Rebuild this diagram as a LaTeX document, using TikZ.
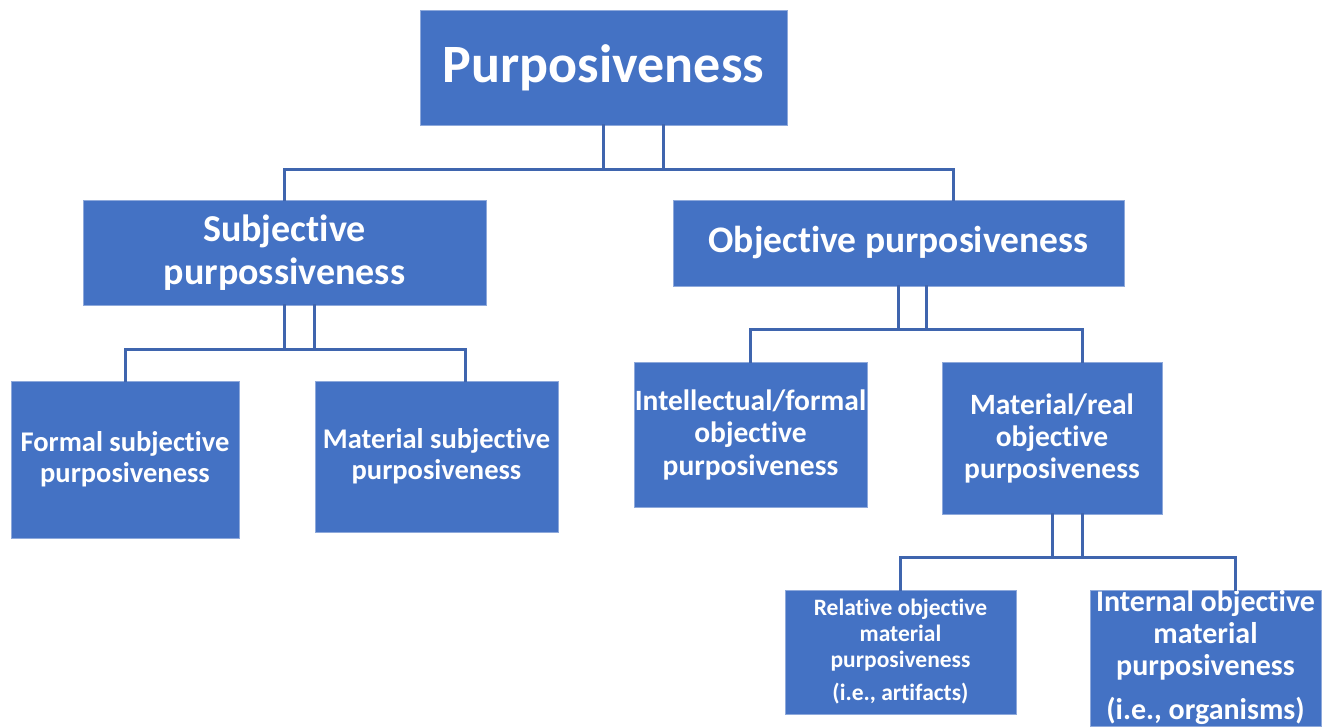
\documentclass[tikz,border=0pt]{standalone}
\usepackage{fontspec}
\setmainfont{Carlito}[Ligatures=NoCommon]
\definecolor{boxblue}{HTML}{4472C4}
\definecolor{edgeblue}{HTML}{8EA9DB}
\definecolor{lineblue}{HTML}{3F65AE}
\begin{document}
\begin{tikzpicture}[x=1pt,y=-1pt,
  box/.style={fill=boxblue,draw=edgeblue,line width=0.6pt,text=white,font=\bfseries,align=center,inner sep=0pt},
  conn/.style={draw=lineblue,line width=3pt,line cap=rect}]
\useasboundingbox[fill=white] (0,0) rectangle (1338,726);
% boxes
\node[box,minimum width=367pt,minimum height=115pt,font=\bfseries\fontsize{54}{60}\selectfont] (top) at (603.5,67.5) {Purposiveness};
\node[box,minimum width=403pt,minimum height=105pt,font=\bfseries\fontsize{38}{43}\selectfont] (sub) at (284.5,252.5) {Subjective\\purpossiveness};
\node[box,minimum width=451pt,minimum height=86pt,font=\bfseries\fontsize{37.5}{43}\selectfont] (obj) at (898.5,243) {Objective purposiveness};
\node[box,minimum width=228pt,minimum height=157pt,font=\bfseries\fontsize{28.5}{31}\selectfont] (fsub) at (125,459.5) {Formal subjective\\purposiveness};
\node[box,minimum width=243pt,minimum height=151pt,font=\bfseries\fontsize{28.5}{31}\selectfont] (msub) at (436.5,456.5) {Material subjective\\purposiveness};
\node[box,minimum width=233pt,minimum height=145pt,font=\bfseries\fontsize{29.5}{32.5}\selectfont] (iobj) at (750.5,434.5) {Intellectual/formal\\objective\\purposiveness};
\node[box,minimum width=220pt,minimum height=152pt,font=\bfseries\fontsize{29.5}{32}\selectfont] (mobj) at (1052,438) {Material/real\\objective\\purposiveness};
\node[box,minimum width=231pt,minimum height=124pt,font=\bfseries\fontsize{23.5}{26}\selectfont] (rel) at (900.5,652) {Relative objective\\material\\purposiveness\\[7pt](i.e., artifacts)};
\node[box,minimum width=231pt,minimum height=136pt,font=\bfseries\fontsize{30}{32}\selectfont] (int) at (1205.5,658) {Internal objective\\material\\purposiveness\\[12pt](i.e., organisms)};
% connectors
\draw[conn] (top.south) -- ++(0,44);
\draw[conn] ([xshift=60pt]top.south) -- ++(0,44);
\draw[conn] (sub.north) -- ++(0,-30) coordinate (t1) -- ++(669,0) coordinate (t2) -- (t2 |- obj.north);
\draw[conn] (sub.south) -- ++(0,44);
\draw[conn] ([xshift=30pt]sub.south) -- ++(0,44);
\draw[conn] (fsub.north) -- ++(0,-31) coordinate (s1) -- ++(340,0) coordinate (s2) -- (s2 |- msub.north);
\draw[conn] (obj.south) -- ++(0,43);
\draw[conn] ([xshift=28pt]obj.south) -- ++(0,43);
\draw[conn] (iobj.north) -- ++(0,-32) coordinate (o1) -- ++(332,0) coordinate (o2) -- (o2 |- mobj.north);
\draw[conn] (mobj.south) -- ++(0,43);
\draw[conn] ([xshift=30pt]mobj.south) -- ++(0,43);
\draw[conn] (rel.north) -- ++(0,-32) coordinate (m1) -- ++(335,0) coordinate (m2) -- (m2 |- int.north);
\end{tikzpicture}
\end{document}
